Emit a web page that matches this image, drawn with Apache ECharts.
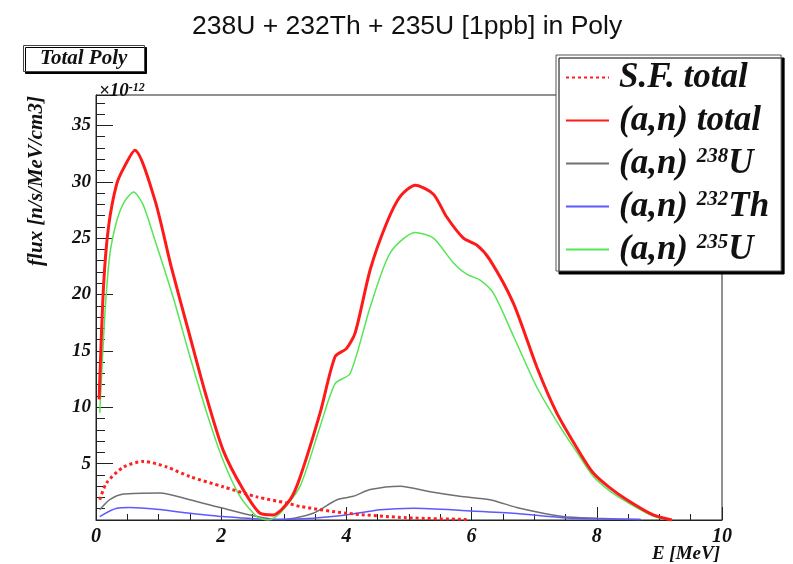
<!DOCTYPE html>
<html>
<head>
<meta charset="utf-8">
<script src="https://cdn.jsdelivr.net/npm/echarts@6/dist/echarts.min.js"></script>
<style>
  html, body { margin: 0; padding: 0; background: #fff; }
  #chart { width: 793px; height: 564px; }
</style>
</head>
<body>
<div id="chart"></div>
<script>
// ---- Data (flux in units of 1e-12 n/s/MeV/cm3, energy in MeV) ----
const seriesNames = ['S.F. total', '(a,n) total', '(a,n) 238U', '(a,n) 232Th', '(a,n) 235U'];

const sfE = [0.06, 0.17, 0.44, 0.76, 1.13, 1.5, 2.03, 2.57, 3.05, 3.26, 4.0, 4.96, 5.92];
const sfV = [1.8, 3.3, 4.7, 5.2, 4.7, 3.85, 2.95, 2.05, 1.5, 1.2, 0.6, 0.2, 0.05];

const totE = [0.05, 0.12, 0.2, 0.33, 0.45, 0.62, 0.94, 1.2, 1.5, 1.75, 2.03, 2.35, 2.62, 2.83, 3.1, 3.26, 3.58, 3.82, 4.0, 4.14, 4.38, 4.64, 4.86, 5.1, 5.39, 5.6, 5.87, 6.08, 6.29, 6.67, 7.04, 7.36, 7.73, 7.94, 8.2, 8.48, 8.9, 9.2];
const totV = [10.7, 20.7, 26.0, 29.8, 31.3, 32.8, 28.4, 22.5, 16.3, 11.2, 6.2, 2.7, 0.6, 0.45, 1.8, 3.8, 9.5, 14.5, 15.2, 16.6, 22.2, 26.3, 28.7, 29.7, 28.9, 26.9, 25.0, 24.4, 23.1, 19.2, 13.6, 9.5, 5.95, 4.2, 2.9, 1.8, 0.45, 0];

const u238E = [0.06, 0.22, 0.44, 1.02, 1.5, 2.03, 2.46, 2.8, 3.0, 3.47, 3.85, 4.11, 4.38, 4.86, 5.34, 5.81, 6.29, 6.77, 7.46, 8.0, 8.7];
const u238V = [0.9, 1.8, 2.3, 2.4, 1.8, 1.04, 0.45, 0.1, 0.05, 0.6, 1.8, 2.1, 2.7, 3.0, 2.5, 2.1, 1.8, 1.04, 0.3, 0.15, 0.05];

const th232E = [0.06, 0.33, 0.54, 0.97, 1.5, 2.03, 2.8, 3.3, 4.0, 4.54, 5.07, 5.92, 6.66, 7.46, 8.0, 8.7];
const th232V = [0.3, 1.04, 1.1, 0.95, 0.6, 0.3, 0.05, 0.1, 0.45, 0.9, 1.04, 0.83, 0.6, 0.2, 0.1, 0.05];

const u235E = [0.06, 0.14, 0.22, 0.33, 0.45, 0.6, 0.75, 0.92, 1.23, 1.5, 1.77, 2.03, 2.3, 2.57, 2.75, 2.94, 3.26, 3.58, 3.82, 4.06, 4.38, 4.7, 5.1, 5.39, 5.71, 5.92, 6.13, 6.35, 6.67, 7.04, 7.41, 7.73, 7.94, 8.2, 8.48, 8.9, 9.2];
const u235V = [9.5, 18.1, 23.5, 26.5, 28.2, 29.1, 28.0, 25.2, 19.8, 14.5, 9.5, 5.3, 2.1, 0.3, 0, 0.6, 3.0, 8.3, 12.1, 13.0, 18.9, 23.7, 25.5, 25.0, 22.8, 21.8, 21.3, 20.1, 16.3, 11.8, 8.3, 5.6, 3.9, 2.6, 1.6, 0.35, 0];

const xTickLabels = [0, 2, 4, 6, 8, 10];
const yTickLabels = [5, 10, 15, 20, 25, 30, 35];

// ---- Chart ----
const serif = 'Liberation Serif';
const pair = (xs, ys) => xs.map((x, i) => [x, ys[i]]);

const chart = echarts.init(document.getElementById('chart'), null, { renderer: 'canvas' });

function lineSeries(name, xs, ys, color, width, type, z) {
  return {
    name, type: 'line', data: pair(xs, ys), smooth: 0.25,
    symbol: 'none', showSymbol: false, z,
    lineStyle: { color, width, type },
    itemStyle: { color },
    emphasis: { disabled: true }
  };
}

const baseFont = { fontFamily: serif, fontWeight: 'bold', fontStyle: 'italic', color: '#111' };

chart.setOption({
  animation: false,
  backgroundColor: '#ffffff',
  title: [
    {
      text: '238U + 232Th + 235U [1ppb] in Poly',
      left: 187, top: 8,
      textStyle: { fontFamily: 'Liberation Sans', fontSize: 26.5, fontWeight: 'normal', color: '#111' }
    },
    {
      text: 'Total Poly',
      left: 23, top: 45,
      padding: [3, 17, 3, 17],
      borderWidth: 1, borderColor: '#444',
      backgroundColor: '#fff',
      shadowColor: '#000', shadowOffsetX: 2, shadowOffsetY: 2, shadowBlur: 0,
      textStyle: Object.assign({ fontSize: 21, lineHeight: 21 }, baseFont)
    },
    {
      text: '{a|×10}{s|-12}',
      left: 94, top: 77,
      textStyle: {
        rich: {
          a: Object.assign({ fontSize: 19, verticalAlign: 'bottom', lineHeight: 19 }, baseFont),
          s: Object.assign({ fontSize: 12, verticalAlign: 'top', lineHeight: 12 }, baseFont)
        }
      }
    }
  ],
  legend: {
    data: seriesNames,
    orient: 'vertical',
    left: 556, top: 55,
    padding: [5, 12, 4, 9],
    itemWidth: 43, itemHeight: 14, itemGap: 8,
    backgroundColor: '#fff',
    borderColor: '#555', borderWidth: 1,
    shadowColor: '#000', shadowOffsetX: 3, shadowOffsetY: 3, shadowBlur: 0,
    selectedMode: false,
    itemStyle: { color: 'rgba(0,0,0,0)', borderColor: 'rgba(0,0,0,0)', borderWidth: 0, opacity: 0 },
    formatter: function (name) {
      const m = name.match(/^\(a,n\) (\d+)([A-Za-z]+)$/);
      if (m) return '{b|(a,n) }{s|' + m[1] + '}{b|' + m[2] + '}';
      return '{b|' + name + '}';
    },
    textStyle: {
      padding: [0, 0, 0, 5],
      rich: {
        b: Object.assign({ fontSize: 35, lineHeight: 35, verticalAlign: 'bottom' }, baseFont),
        s: Object.assign({ fontSize: 21, lineHeight: 21, verticalAlign: 'top' }, baseFont)
      }
    }
  },
  grid: {
    left: 96, right: 71, top: 95, bottom: 44,
    show: true, borderColor: '#222', borderWidth: 1, backgroundColor: 'transparent'
  },
  xAxis: {
    type: 'value', min: 0, max: 10, interval: 2,
    axisLine: { show: true, lineStyle: { color: '#222', width: 1 } },
    axisTick: { show: true, inside: true, length: 13, lineStyle: { color: '#222' } },
    minorTick: { show: true, splitNumber: 4, length: 6, lineStyle: { color: '#222' } },
    splitLine: { show: false },
    axisLabel: Object.assign({
      fontSize: 20, margin: 7,
      formatter: v => (xTickLabels.indexOf(v) >= 0 ? String(v) : '')
    }, baseFont)
  },
  yAxis: [
    {
      type: 'value', min: 0, max: 37.7, interval: 5,
      axisLine: { show: true, lineStyle: { color: '#222', width: 1 } },
      axisTick: { show: true, inside: true, length: 17, lineStyle: { color: '#222' } },
      splitLine: { show: false },
      axisLabel: Object.assign({
        fontSize: 19, margin: 5,
        formatter: v => (yTickLabels.indexOf(v) >= 0 ? String(v) : '')
      }, baseFont)
    },
    {
      type: 'value', min: 0, max: 37.7, interval: 1, position: 'left',
      axisLine: { show: false },
      axisTick: { show: true, inside: true, length: 9, lineStyle: { color: '#222' } },
      splitLine: { show: false },
      axisLabel: { show: false }
    }
  ],
  graphic: [
    {
      type: 'text', x: 37, y: 181, rotation: Math.PI / 2,
      style: {
        text: 'flux [n/s/MeV/cm3]', fontSize: 21,
        fontFamily: serif, fontWeight: 'bold', fontStyle: 'italic',
        textAlign: 'center', textVerticalAlign: 'middle', fill: '#111'
      }
    },
    {
      type: 'text', x: 720, y: 554,
      style: {
        text: 'E [MeV]', fontSize: 19, fontFamily: serif, fontWeight: 'bold', fontStyle: 'italic',
        textAlign: 'right', textVerticalAlign: 'middle', fill: '#111'
      }
    }
  ],
  series: [
    lineSeries(seriesNames[0], sfE, sfV, '#ff2020', 3, [3, 3], 5),
    lineSeries(seriesNames[1], totE, totV, '#ff1a1a', 3, 'solid', 6),
    lineSeries(seriesNames[2], u238E, u238V, '#707070', 1.5, 'solid', 3),
    lineSeries(seriesNames[3], th232E, th232V, '#5a5aff', 1.5, 'solid', 3),
    lineSeries(seriesNames[4], u235E, u235V, '#55e655', 1.5, 'solid', 4)
  ]
});
</script>
</body>
</html>
